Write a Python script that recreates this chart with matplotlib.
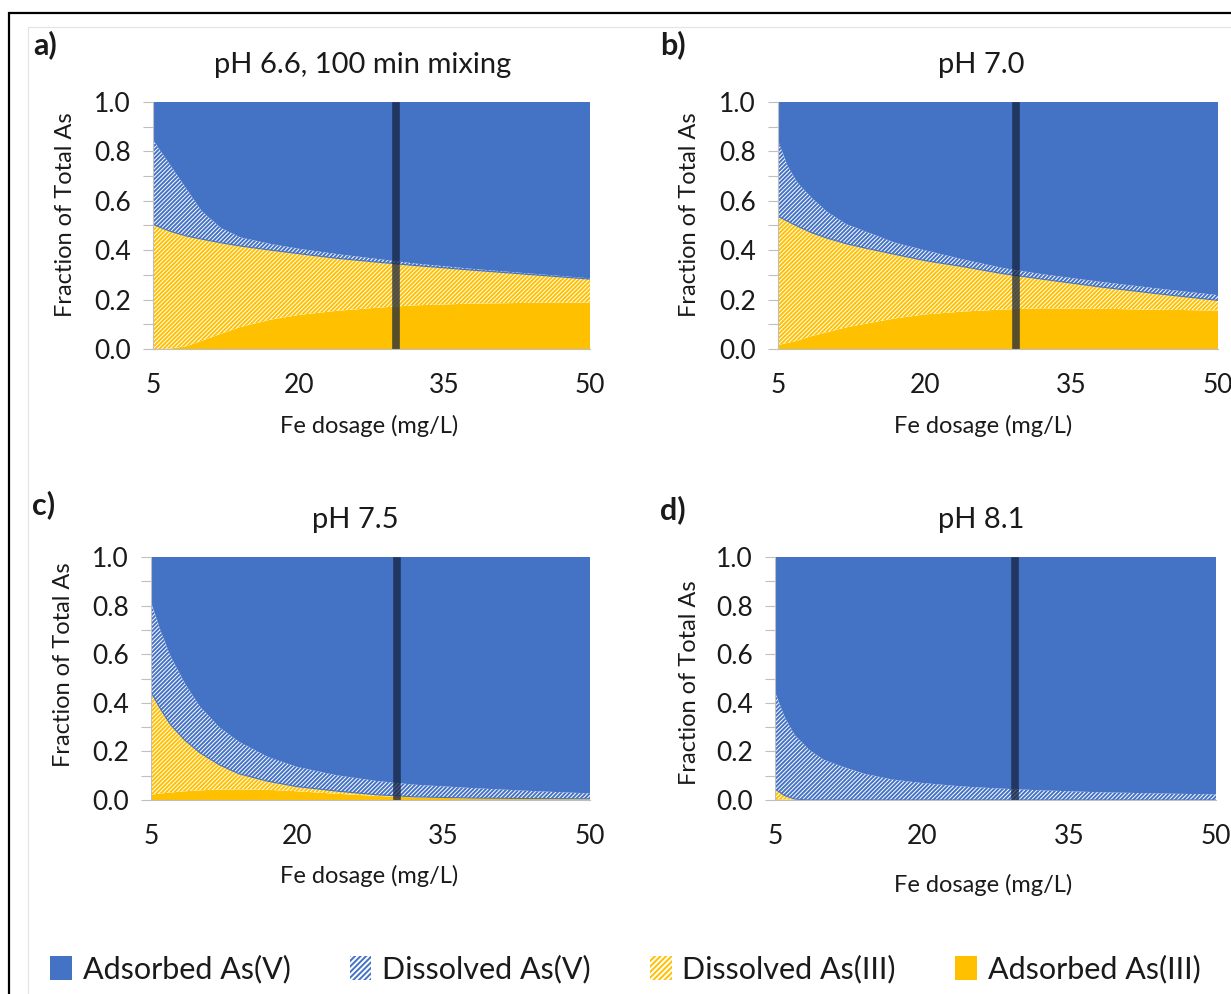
import numpy as np
import matplotlib
matplotlib.use('Agg')
from matplotlib import pyplot as plt
from matplotlib.patches import Patch, Rectangle
from matplotlib.ticker import MultipleLocator, FormatStrFormatter

plt.rcParams['font.family'] = ['Lato', 'DejaVu Sans']
plt.rcParams['hatch.linewidth'] = 1.4

# Fe dosage (mg/L) where the fractions were read
fe = [5, 6, 7, 8.5, 10, 12, 14, 17, 20, 24, 28, 32, 38, 44, 50]

# a) pH 6.6, 100 min mixing
ads3_a = [0, 0, 0.003, 0.012, 0.033, 0.062, 0.089, 0.118, 0.138, 0.155, 0.167, 0.177, 0.184, 0.187, 0.188]
dis3_a = [0.505, 0.488, 0.471, 0.445, 0.412, 0.368, 0.328, 0.283, 0.248, 0.212, 0.185, 0.161, 0.135, 0.114, 0.095]
dis5_a = [0.342, 0.301, 0.258, 0.188, 0.114, 0.060, 0.035, 0.025, 0.020, 0.017, 0.013, 0.008, 0.005, 0.004, 0.003]
ads5_a = [0.153, 0.211, 0.268, 0.355, 0.441, 0.510, 0.548, 0.574, 0.594, 0.616, 0.635, 0.654, 0.676, 0.695, 0.714]

# b) pH 7.0
ads3_b = [0.016, 0.025, 0.034, 0.053, 0.068, 0.088, 0.103, 0.124, 0.140, 0.152, 0.160, 0.165, 0.163, 0.159, 0.156]
dis3_b = [0.521, 0.492, 0.463, 0.417, 0.381, 0.338, 0.305, 0.259, 0.218, 0.181, 0.145, 0.118, 0.088, 0.064, 0.041]
dis5_b = [0.307, 0.223, 0.176, 0.140, 0.107, 0.079, 0.067, 0.047, 0.042, 0.029, 0.023, 0.020, 0.021, 0.021, 0.021]
ads5_b = [0.156, 0.260, 0.327, 0.390, 0.444, 0.495, 0.525, 0.570, 0.600, 0.638, 0.672, 0.697, 0.728, 0.756, 0.782]

# c) pH 7.5
ads3_c = [0.022, 0.027, 0.031, 0.036, 0.040, 0.043, 0.044, 0.042, 0.036, 0.026, 0.017, 0.011, 0.006, 0.004, 0.003]
dis3_c = [0.422, 0.346, 0.279, 0.209, 0.155, 0.102, 0.064, 0.035, 0.019, 0.011, 0.005, 0.002, 0.002, 0.002, 0.002]
dis5_c = [0.371, 0.322, 0.282, 0.233, 0.190, 0.155, 0.132, 0.100, 0.081, 0.065, 0.057, 0.050, 0.041, 0.031, 0.022]
ads5_c = [0.185, 0.305, 0.408, 0.522, 0.615, 0.700, 0.760, 0.823, 0.864, 0.898, 0.921, 0.937, 0.951, 0.963, 0.973]

# d) pH 8.1
ads3_d = [0.004, 0.002, 0.001, 0, 0, 0, 0, 0, 0, 0, 0, 0, 0, 0, 0]
dis3_d = [0.041, 0.016, 0.003, 0, 0, 0, 0, 0, 0, 0, 0, 0, 0, 0, 0]
dis5_d = [0.400, 0.322, 0.264, 0.206, 0.165, 0.136, 0.109, 0.084, 0.070, 0.056, 0.047, 0.040, 0.032, 0.027, 0.023]
ads5_d = [0.555, 0.660, 0.732, 0.794, 0.835, 0.864, 0.891, 0.916, 0.930, 0.944, 0.953, 0.960, 0.968, 0.973, 0.977]

letters = ['a)', 'b)', 'c)', 'd)']
titles = ['pH 6.6, 100 min mixing', 'pH 7.0', 'pH 7.5', 'pH 8.1']
dose_line = [30, 29.3, 30.2, 29.5]
legend_labels = ['Adsorbed As(V)', 'Dissolved As(V)', 'Dissolved As(III)', 'Adsorbed As(III)']

blue = '#4472C4'
orange = '#FFC000'
txt = '#1a1a1a'
W, H = 1231, 994
HATCH = '////////'

fig = plt.figure(figsize=(12.31, 9.94), dpi=100)

# outer frame of the figure
fig.patches.append(Rectangle((9 / W, -0.05), 1.2, 1.05 - 13 / H,
                             transform=fig.transFigure, fill=False,
                             edgecolor='black', linewidth=1.6))
fig.patches.append(Rectangle((28 / W, -0.05), 1.2, 1.05 - 27 / H,
                             transform=fig.transFigure, fill=False,
                             edgecolor='#e3e3e3', linewidth=0.8))

# axes boxes in pixels: left, right, top, bottom
boxes = [(153, 590, 102, 349), (778, 1218, 102, 349),
         (151, 590, 557, 800), (775, 1216, 557, 800)]
title_xy = [(363, 65), (981, 65), (355, 520), (981, 520)]
letter_xy = [(45, 45), (673, 45), (44, 505), (673, 510)]
ylab_xy = [(65, 215), (690, 215), (63, 665), (690, 683)]
xlab_xy = [(369, 426), (983, 426), (369, 876), (983, 885)]

data = [(ads3_a, dis3_a, dis5_a, ads5_a), (ads3_b, dis3_b, dis5_b, ads5_b),
        (ads3_c, dis3_c, dis5_c, ads5_c), (ads3_d, dis3_d, dis5_d, ads5_d)]

for i, (ads3, dis3, dis5, ads5) in enumerate(data):
    l, r, t, b = boxes[i]
    ax = fig.add_axes([l / W, 1 - b / H, (r - l) / W, (b - t) / H])
    polys = ax.stackplot(fe, ads3, dis3, dis5, ads5,
                         colors=[orange, 'white', 'white', blue], linewidth=0)
    polys[1].set_hatch(HATCH)
    polys[1].set_edgecolor(orange)
    polys[2].set_hatch(HATCH)
    polys[2].set_edgecolor(blue)
    # thin border between the dissolved As(III) and As(V) areas
    ax.plot(fe, np.add(ads3, dis3), color=blue, lw=0.8)
    ax.axvline(dose_line[i], ymin=0, ymax=0.985, color='#14213d', alpha=0.72, lw=5.5)

    ax.set_xlim(5, 50)
    ax.set_ylim(0, 1)
    ax.set_xticks([5, 20, 35, 50])
    ax.yaxis.set_major_locator(MultipleLocator(0.2))
    ax.yaxis.set_minor_locator(MultipleLocator(0.1))
    ax.yaxis.set_major_formatter(FormatStrFormatter('%.1f'))
    ax.tick_params(axis='y', which='both', length=7, width=0.8, color='#bfbfbf',
                   labelsize=19, labelcolor=txt, pad=9)
    ax.tick_params(axis='x', length=0, labelsize=19, labelcolor=txt, pad=17)
    for s in ['top', 'right']:
        ax.spines[s].set_visible(False)
    for s in ['left', 'bottom']:
        ax.spines[s].set_color('#bfbfbf')
        ax.spines[s].set_linewidth(0.8)

    fig.text(title_xy[i][0] / W, 1 - title_xy[i][1] / H, titles[i],
             fontsize=21, color=txt, ha='center', va='center')
    fig.text(letter_xy[i][0] / W, 1 - letter_xy[i][1] / H, letters[i],
             fontsize=22, fontweight='bold', color=txt, ha='center', va='center')
    fig.text(ylab_xy[i][0] / W, 1 - ylab_xy[i][1] / H, 'Fraction of Total As',
             fontsize=17, color=txt, ha='center', va='center', rotation=90)
    fig.text(xlab_xy[i][0] / W, 1 - xlab_xy[i][1] / H, 'Fe dosage (mg/L)',
             fontsize=17, color=txt, ha='center', va='center')

handles = [Patch(facecolor=blue, edgecolor=blue, linewidth=0),
           Patch(facecolor='white', edgecolor=blue, hatch='//////', linewidth=0),
           Patch(facecolor='white', edgecolor=orange, hatch='//////', linewidth=0),
           Patch(facecolor=orange, edgecolor=orange, linewidth=0)]
fig.legend(handles, legend_labels, loc='center', bbox_to_anchor=(0.508, 1 - 969 / H),
           ncol=4, frameon=False, fontsize=22, handlelength=0.7, handleheight=0.85,
           handletextpad=0.35, columnspacing=1.95, labelcolor=txt)

fig.savefig('out.png', dpi=100)
